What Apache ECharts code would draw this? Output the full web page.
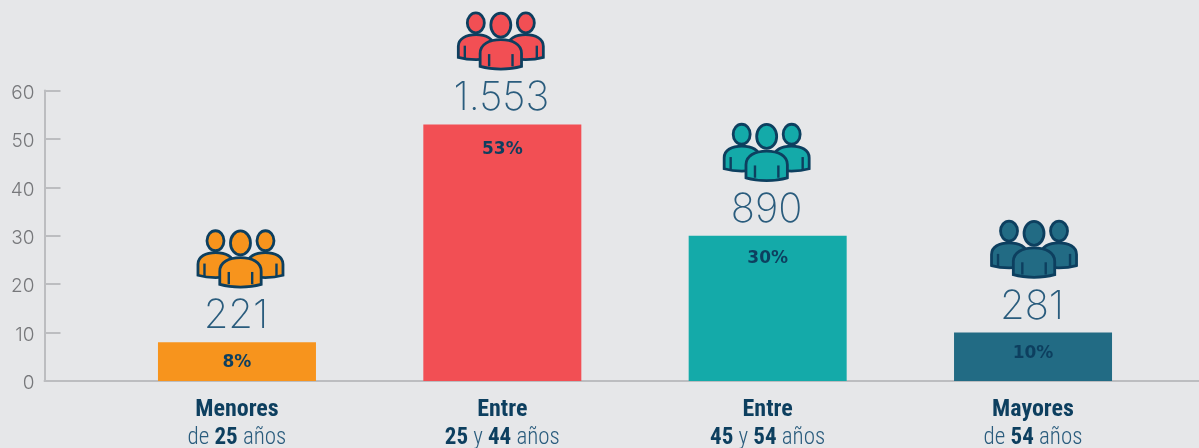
<!DOCTYPE html>
<html>
<head>
<meta charset="utf-8">
<style>
  html, body { margin: 0; padding: 0; background: #e6e7e9; }
  #chart { width: 1199px; height: 448px; }
</style>
<script src="https://cdn.jsdelivr.net/npm/echarts@6/dist/echarts.min.js"></script>
</head>
<body>
<div id="chart"></div>
<script>
var categories = ['Menores', 'Entre', 'Entre', 'Mayores'];
var ranges = ['{r|de }{b|25}{r| años}', '{b|25}{r| y }{b|44}{r| años}', '{b|45}{r| y }{b|54}{r| años}', '{r|de }{b|54}{r| años}'];
var percents = [8, 53, 30, 10];
var people = ['221', '1.553', '890', '281'];
var colors = ['#f7941d', '#f24f54', '#14aaa9', '#226b84'];
var yTicks = [0, 10, 20, 30, 40, 50, 60];

var navy = '#0d3f5f';
var axisGrey = '#bcbdc0';
// the icons and % labels in the original are hand placed, not quite regular
var iconNudge = [3.5, -1.5, -1, 1];
var labelDrop = [12, 17, 14, 12];
var bodyPath = 'M0 88 L0 45 C0 15 22 0 50 0 C78 0 100 15 100 45 L100 88 C70 100 30 100 0 88 Z';

function person(cx, headY, rx, ry, bodyX, bodyW, bodyY, bodyH, lineX1, lineX2, lineY1, lineY2, fill) {
  var st = { fill: fill, stroke: navy, lineWidth: 2.8 };
  var ln = { stroke: navy, lineWidth: 2.4, fill: null };
  return [
    { type: 'ellipse', shape: { cx: cx, cy: headY, rx: rx, ry: ry }, style: st },
    { type: 'path', shape: { pathData: bodyPath, layout: 'cover', x: bodyX, y: bodyY, width: bodyW, height: bodyH }, style: st },
    { type: 'line', shape: { x1: lineX1, y1: lineY1, x2: lineX1, y2: lineY2 }, style: ln },
    { type: 'line', shape: { x1: lineX2, y1: lineY1, x2: lineX2, y2: lineY2 }, style: ln }
  ];
}

function renderIcon(params, api) {
  var i = api.value(0);
  var pos = api.coord([i, api.value(1)]);
  var fill = colors[i];
  var kids = []
    .concat(person(-25, -101.5, 8.5, 10, -42.5, 35.5, -89.7, 25, -36, -15, -78.7, -66, fill))
    .concat(person(25, -101.5, 8.5, 10, 7, 35.5, -89.7, 25, 15, 36, -78.7, -66, fill))
    .concat(person(0, -99.3, 10, 12, -20.7, 41.4, -84.7, 29.5, -11.7, 11.7, -70.3, -58, fill));
  return {
    type: 'group',
    children: [
      { type: 'group', x: pos[0] + iconNudge[i], y: pos[1], children: kids },
      {
        type: 'text',
        x: pos[0] - 1,
        y: pos[1] - 26,
        style: {
          text: people[i],
          textAlign: 'center',
          textVerticalAlign: 'middle',
          font: '200 40px Inter, sans-serif',
          fill: '#2a5c7d'
        }
      }
    ]
  };
}

var myChart = echarts.init(document.getElementById('chart'));
myChart.setOption({
  backgroundColor: '#e6e7e9',
  animation: false,
  grid: [
    { left: 104.3, right: 33.3, top: 90.5, bottom: 67, outerBoundsMode: 'none' },
    { left: 44.5, right: 0, top: 90.5, bottom: 67, outerBoundsMode: 'none' }
  ],
  xAxis: [
    {
      type: 'category',
      gridIndex: 0,
      data: categories,
      axisLine: { show: false },
      axisTick: { show: false },
      axisLabel: {
        margin: 15,
        interval: 0,
        formatter: function (v, i) {
          return '{t|' + v + '}\n' + ranges[i];
        },
        rich: {
          t: { fontFamily: 'Roboto Condensed', fontWeight: 'bold', fontSize: 24, color: navy, lineHeight: 28 },
          b: { fontFamily: 'Roboto Condensed', fontWeight: 'bold', fontSize: 23, color: navy, lineHeight: 28 },
          r: { fontFamily: 'Roboto Condensed', fontWeight: 300, fontSize: 23, color: '#2a5c7d', lineHeight: 28 }
        }
      }
    },
    {
      type: 'value',
      gridIndex: 1,
      min: 0,
      max: 1,
      axisLine: { show: true, onZero: false, lineStyle: { color: axisGrey, width: 2 } },
      axisTick: { show: false },
      axisLabel: { show: false },
      splitLine: { show: false }
    }
  ],
  yAxis: [
    { type: 'value', gridIndex: 0, min: yTicks[0], max: yTicks[6], show: false },
    {
      type: 'value',
      gridIndex: 1,
      min: yTicks[0],
      max: yTicks[6],
      interval: 10,
      axisLine: { show: true, lineStyle: { color: axisGrey, width: 2 } },
      axisTick: { show: true, inside: true, length: 16, lineStyle: { color: axisGrey, width: 2 } },
      splitLine: { show: false },
      axisLabel: {
        margin: 10,
        formatter: '{v|{value}}',
        rich: {
          v: {
            padding: [5, 0, 0, 0],
            fontFamily: 'Inter',
            fontWeight: 300,
            fontSize: 19,
            color: '#77787b'
          }
        }
      }
    }
  ],
  series: [
    {
      type: 'bar',
      xAxisIndex: 0,
      yAxisIndex: 0,
      barWidth: 158,
      data: percents.map(function (p, i) {
        return {
          value: p,
          itemStyle: { color: colors[i] },
          label: { distance: labelDrop[i] }
        };
      }),
      label: {
        show: true,
        position: 'insideTop',
        formatter: '{c}%',
        fontFamily: 'DejaVu Sans',
        fontWeight: 'bold',
        fontSize: 17,
        color: navy
      }
    },
    {
      type: 'custom',
      xAxisIndex: 0,
      yAxisIndex: 0,
      clip: false,
      silent: true,
      renderItem: renderIcon,
      data: percents.map(function (p, i) { return [i, p]; })
    }
  ]
});
</script>
</body>
</html>
